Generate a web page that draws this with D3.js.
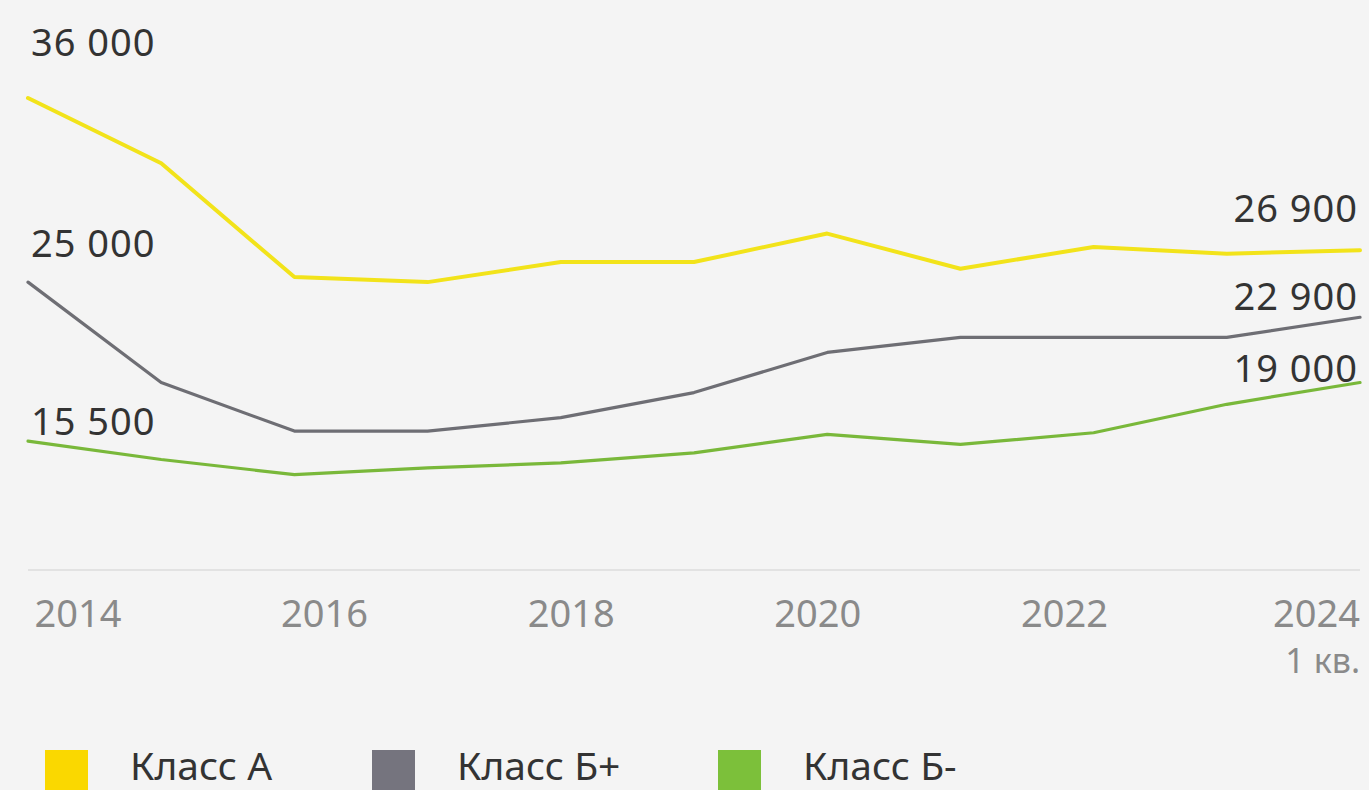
<!DOCTYPE html>
<html>
<head>
<meta charset="utf-8">
<script src="https://cdn.jsdelivr.net/npm/d3@7"></script>
<style>
  html, body { margin: 0; padding: 0; background: #f4f4f4; }
  svg { display: block; }
  text { font-family: "Noto Sans", sans-serif; }
</style>
</head>
<body>
<svg id="chart" width="1369" height="790"></svg>
<script>
// ---- data ----
const years = ["2014","2015","2016","2017","2018","2019","2020","2021","2022","2023","2024 1 кв."];
const classA = [36000, 32100, 25300, 25000, 26200, 26200, 27900, 25800, 27100, 26700, 26900];
const classBplus = [25000, 19000, 16100, 16100, 16900, 18400, 20800, 21700, 21700, 21700, 22900];
const classBminus = [15500, 14400, 13500, 13900, 14200, 14800, 15900, 15300, 16000, 17700, 19000];
const tickLabels = ["2014","2016","2018","2020","2022","2024"];
const seriesNames = ["Класс А", "Класс Б+", "Класс Б-"];

// ---- styles ----
const lineColors = ["#f2e31a", "#6e6e74", "#79b83a"];
const legendColors = ["#fad800", "#75747e", "#7cc03a"];
const lineWidths = [4, 3.2, 3.2];

const svg = d3.select("#chart");
const W = 1369, H = 790;
svg.append("rect").attr("width", W).attr("height", H).attr("fill", "#f4f4f4");

const x = d3.scalePoint().domain(years).range([28, 1360]);
const y = d3.scaleLinear().domain([7800, 36000]).range([570, 98]);

// baseline
svg.append("line")
  .attr("x1", 28).attr("x2", 1360)
  .attr("y1", y(7800)).attr("y2", y(7800))
  .attr("stroke", "#e2e2e2").attr("stroke-width", 2);

const series = [classA, classBplus, classBminus];
const line = d3.line()
  .x((d, i) => x(years[i]))
  .y(d => y(d))
  .curve(d3.curveLinear);

series.forEach((s, k) => {
  svg.append("path")
    .datum(s)
    .attr("d", line)
    .attr("fill", "none")
    .attr("stroke", lineColors[k])
    .attr("stroke-width", lineWidths[k])
    .attr("stroke-linejoin", "round")
    .attr("stroke-linecap", "round");
});

// value labels at start and end
const fmt = v => d3.format(",")(v).replace(/,/g, " ");
const startOffsets = [-42, -25, -6];
const endOffsets = [-28, -7, -1];
series.forEach((s, k) => {
  svg.append("text")
    .attr("x", x(years[0]) + 3)
    .attr("y", y(s[0]) + startOffsets[k])
    .attr("font-size", 38)
    .attr("fill", "#333")
    .attr("letter-spacing", 1)
    .text(fmt(s[0]));
  svg.append("text")
    .attr("x", x(years[years.length - 1]) - 2)
    .attr("y", y(s[s.length - 1]) + endOffsets[k])
    .attr("text-anchor", "end")
    .attr("font-size", 38)
    .attr("fill", "#333")
    .attr("letter-spacing", 1)
    .text(fmt(s[s.length - 1]));
});

// x tick labels
const xt = d3.scalePoint().domain(tickLabels).range([78, 1311]);
tickLabels.forEach((t, i) => {
  const last = i === tickLabels.length - 1;
  svg.append("text")
    .attr("x", last ? 1360 : xt(t))
    .attr("y", 627)
    .attr("text-anchor", last ? "end" : "middle")
    .attr("font-size", 38)
    .attr("fill", "#8a8a8a")
    .text(t);
});
svg.append("text")
  .attr("x", 1360).attr("y", 673)
  .attr("text-anchor", "end")
  .attr("font-size", 34)
  .attr("fill", "#8a8a8a")
  .text("1 кв.");

// legend
const legendX = [45, 372, 718];
seriesNames.forEach((n, k) => {
  svg.append("rect")
    .attr("x", legendX[k]).attr("y", 750)
    .attr("width", 43).attr("height", 45)
    .attr("fill", legendColors[k]);
  svg.append("text")
    .attr("x", legendX[k] + 85).attr("y", 780)
    .attr("font-size", 39)
    .attr("fill", "#333")
    .text(n);
});
</script>
</body>
</html>
